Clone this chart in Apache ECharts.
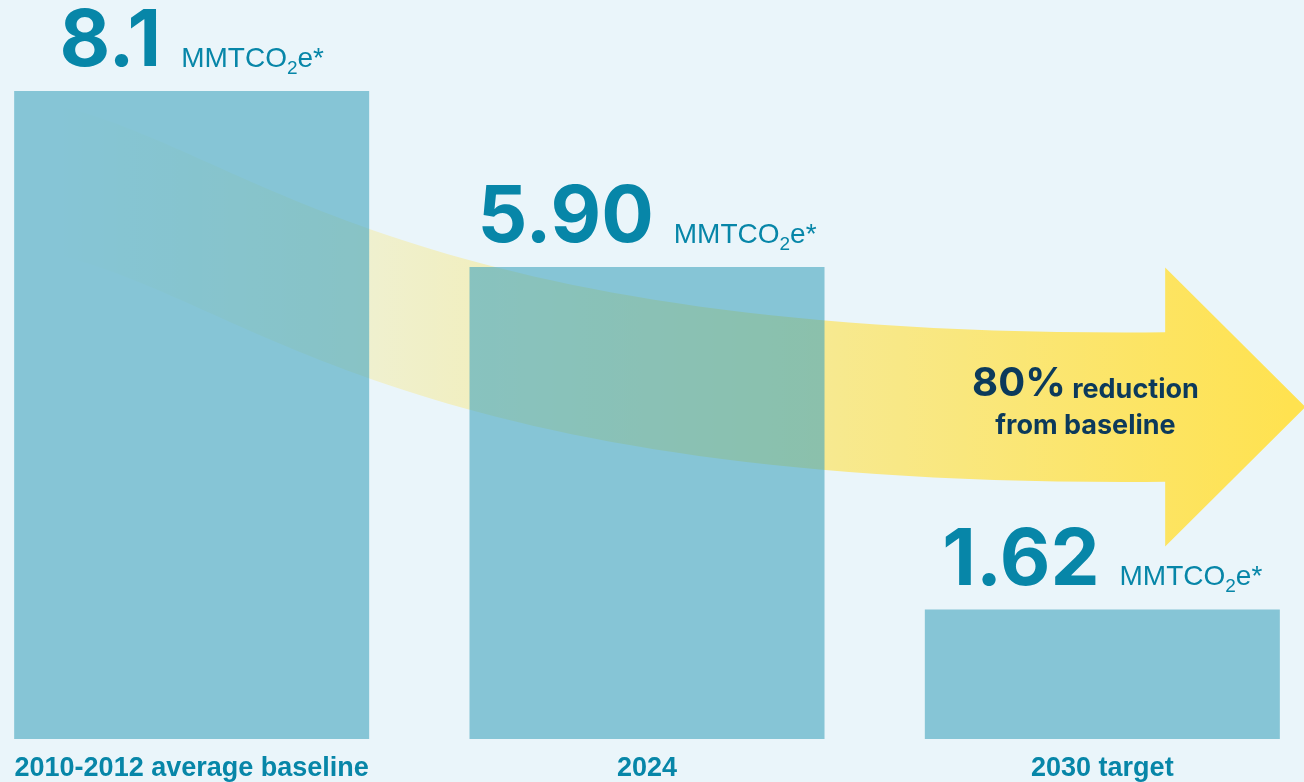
<!DOCTYPE html>
<html>
<head>
<meta charset="utf-8">
<script src="https://cdn.jsdelivr.net/npm/echarts@6/dist/echarts.min.js"></script>
<style>
  html, body { margin: 0; padding: 0; background: #eaf5fa; overflow: hidden; width: 1304px; height: 782px; position: relative; }
  #chart { position: absolute; left: -36px; top: 0; width: 1366px; height: 782px; }
</style>
</head>
<body>
<div id="chart"></div>
<script>
// ---- Data ----
const categories = ['2010-2012 average baseline', '2024', '2030 target'];
const values = [8.1, 5.9, 1.62];
const valueText = ['8.1', '5.90', '1.62'];
const unitMain = 'MMTCO';
const unitSub = '2';
const unitTail = 'e*';
const noteLines = ['80%', 'reduction', 'from baseline'];
// Arrow annotation in data units (x: category index, y: MMTCO2e)
const arrowUpper = [[-0.300, 7.925], [0.128, 7.364], [0.458, 4.997], [2.138, 5.084]];
const arrowThickness = 1.869;
const arrowHead = [[2.138, 5.894], [2.446, 4.150], [2.138, 2.405]];
const noteAnchor = [1.963, 4.22];

const FONT = '"Liberation Sans", Arial, Helvetica, sans-serif';
const FONT_NUM = 'Inter, "Liberation Sans", Arial, sans-serif';
const TEAL = '#0786a8';
const NAVY = '#0c3a5b';

const chart = echarts.init(document.getElementById('chart'));

function renderArrow(params, api) {
  const c = p => api.coord(p);
  const up = arrowUpper.map(c);
  const lo = arrowUpper.map(p => c([p[0], p[1] - arrowThickness]));
  const head = arrowHead.map(c);
  const f = p => p[0].toFixed(2) + ' ' + p[1].toFixed(2);
  const d = 'M ' + f(up[0]) + ' C ' + f(up[1]) + ' ' + f(up[2]) + ' ' + f(up[3]) +
    ' L ' + f(head[0]) + ' L ' + f(head[1]) + ' L ' + f(head[2]) +
    ' L ' + f(lo[3]) + ' C ' + f(lo[2]) + ' ' + f(lo[1]) + ' ' + f(lo[0]) + ' Z';
  const grad = new echarts.graphic.LinearGradient(up[0][0], 0, head[1][0] - 15, 0, [
    { offset: 0, color: 'rgba(255,226,80,0)' },
    { offset: 1, color: 'rgba(255,226,80,1)' }
  ], true);
  const np = c(noteAnchor);
  return {
    type: 'group',
    children: [
      { type: 'path', shape: { pathData: d }, style: { fill: grad } },
      {
        type: 'text', x: np[0], y: np[1],
        style: {
          text: '{p|' + noteLines[0] + '}{r| ' + noteLines[1] + '}\n{q|' + noteLines[2] + '}',
          align: 'center', verticalAlign: 'middle',
          rich: {
            p: { fontSize: 40, fontWeight: 'bold', fontFamily: FONT_NUM, fill: NAVY, lineHeight: 40, verticalAlign: 'bottom' },
            r: { fontSize: 27, fontWeight: 'bold', fontFamily: FONT_NUM, fill: NAVY, lineHeight: 27, verticalAlign: 'bottom', padding: [0, 0, 1, 0] },
            q: { fontSize: 27, fontWeight: 'bold', fontFamily: FONT_NUM, fill: NAVY, lineHeight: 35, verticalAlign: 'bottom' }
          }
        }
      }
    ]
  };
}

chart.setOption({
  backgroundColor: '#eaf5fa',
  animation: false,
  grid: { left: 0, right: 0, top: 91, bottom: 41, containLabel: false },
  xAxis: [
    {
      type: 'category', data: categories,
      axisLine: { show: false }, axisTick: { show: false }, splitLine: { show: false },
      axisLabel: { color: TEAL, fontSize: 27, fontWeight: 'bold', fontFamily: FONT, margin: 16, interval: 0 }
    },
    { type: 'value', min: -0.5, max: 2.5, show: false }
  ],
  yAxis: { type: 'value', min: 0, max: 8.1, show: false },
  series: [
    {
      type: 'custom', xAxisIndex: 1, yAxisIndex: 0, z: 1, silent: true,
      data: [0], renderItem: renderArrow
    },
    {
      type: 'bar', xAxisIndex: 0, yAxisIndex: 0, z: 2,
      data: values, barWidth: 355,
      itemStyle: { color: 'rgba(66,165,190,0.6)' },
      label: {
        show: true, position: 'top', distance: 9,
        formatter: p => '{v|' + valueText[p.dataIndex] + '}{u|' + unitMain + '}{s|' + unitSub + '}{u|' + unitTail + '}',
        rich: {
          v: { fontSize: 78, fontWeight: 'bold', fontFamily: FONT_NUM, color: TEAL, lineHeight: 78, verticalAlign: 'bottom', padding: [0, 20, 0, 0] },
          u: { fontSize: 28, fontFamily: FONT, color: TEAL, lineHeight: 28, verticalAlign: 'bottom', padding: [0, 0, 9, 0] },
          s: { fontSize: 19, fontFamily: FONT, color: TEAL, lineHeight: 19, verticalAlign: 'bottom', padding: [0, 0, 4, 0] }
        }
      }
    }
  ]
});
</script>
</body>
</html>
